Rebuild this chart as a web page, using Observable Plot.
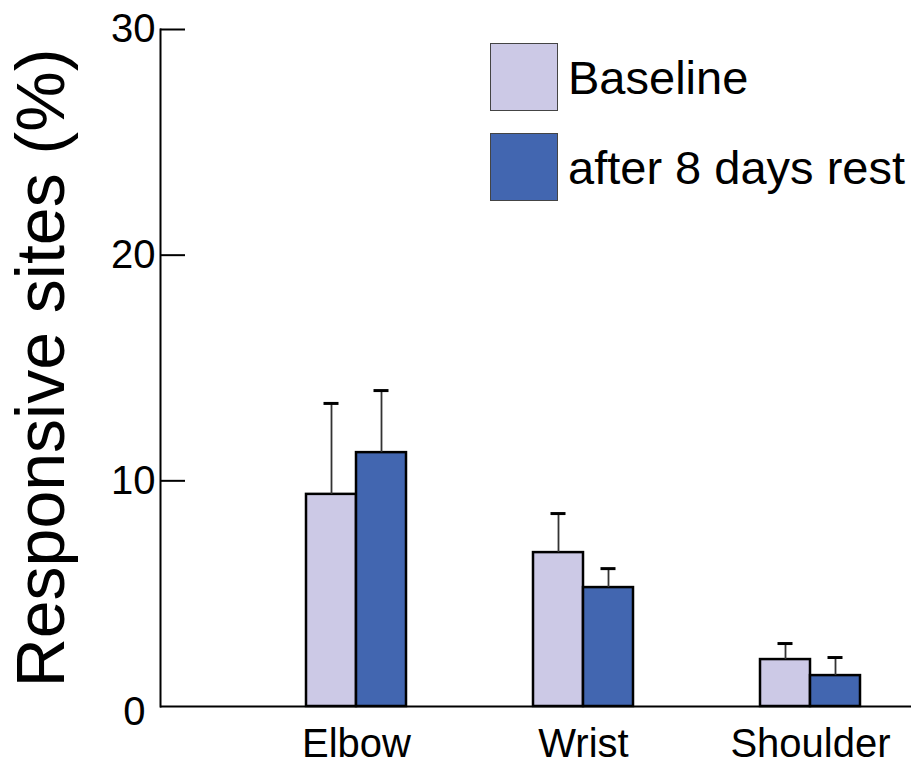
<!DOCTYPE html>
<html>
<head>
<meta charset="utf-8">
<script src="https://cdn.jsdelivr.net/npm/d3@7"></script>
<script src="https://cdn.jsdelivr.net/npm/@observablehq/plot@0.6"></script>
<style>
  html, body { margin: 0; padding: 0; background: #fff; }
  #wrap { position: relative; width: 911px; height: 764px; font-family: "Liberation Sans", Arial, sans-serif; }
  #legend { position: absolute; left: 490px; top: 43px; }
  .row { display: flex; align-items: center; height: 68px; margin-bottom: 22px; }
  .sw { width: 66px; height: 66px; border: 1px solid #444; box-sizing: content-box; }
  .lab { font-size: 47px; margin-left: 10px; color: #000; white-space: nowrap; }
</style>
</head>
<body>
<div id="wrap"></div>
<script>
const categories = ["Elbow", "Wrist", "Shoulder"];
const seriesNames = ["Baseline", "after 8 days rest"];
const baselineValues = [9.4, 6.82, 2.08];
const baselineErrors = [4.03, 1.73, 0.71];
const restValues = [11.25, 5.27, 1.37];
const restErrors = [2.75, 0.84, 0.8];
const yTicks = [10, 20, 30];
const yZeroTick = [0];
const yLabel = "Responsive sites (%)";
const colors = ["#CCC9E6", "#4266B0"];

const rows = [];
categories.forEach((c, i) => {
  rows.push({cat: c, series: seriesNames[0], value: baselineValues[i], err: baselineErrors[i]});
  rows.push({cat: c, series: seriesNames[1], value: restValues[i], err: restErrors[i]});
});
const base = rows.filter(d => d.series === seriesNames[0]);
const rest = rows.filter(d => d.series === seriesNames[1]);

const font = '"Liberation Sans", Arial, sans-serif';

const chart = Plot.plot({
  width: 911,
  height: 764,
  marginLeft: 160,
  marginRight: 0,
  marginTop: 29,
  marginBottom: 58,
  style: {fontFamily: font, color: "#000", background: "#fff", overflow: "visible"},
  x: {domain: categories, paddingInner: 0.5604, paddingOuter: 0.4308, align: 0.74, label: null},
  y: {domain: [0, 30], label: null},
  marks: [
    Plot.barY(base, {x: "cat", y: "value", fill: colors[0], stroke: "#000", strokeWidth: 2.5, insetRight: 50}),
    Plot.barY(rest, {x: "cat", y: "value", fill: colors[1], stroke: "#000", strokeWidth: 2.5, insetLeft: 50}),
    Plot.ruleX(base, {x: "cat", y1: "value", y2: d => d.value + d.err, dx: -25, stroke: "#333", strokeWidth: 1.8}),
    Plot.ruleX(rest, {x: "cat", y1: "value", y2: d => d.value + d.err, dx: 25, stroke: "#333", strokeWidth: 1.8}),
    Plot.tickY(base, {x: "cat", y: d => d.value + d.err, dx: -25, insetLeft: 42.5, insetRight: 42.5, stroke: "#000", strokeWidth: 3}),
    Plot.tickY(rest, {x: "cat", y: d => d.value + d.err, dx: 25, insetLeft: 42.5, insetRight: 42.5, stroke: "#000", strokeWidth: 3}),
    Plot.frame({anchor: "left", stroke: "#000", strokeWidth: 2}),
    Plot.ruleY([0], {stroke: "#000", strokeWidth: 2}),
    Plot.axisY({ticks: yTicks, tickSize: -25, tickPadding: 30, fontSize: 40, label: null, strokeWidth: 2, tickFormat: d => String(d)}),
    Plot.axisY({ticks: yZeroTick, tickSize: 0, tickPadding: 15, dy: 6, fontSize: 40, label: null, tickFormat: d => String(d)}),
    Plot.axisX({tickSize: 0, tickPadding: 22, fontSize: 40, label: null}),
    Plot.text([yLabel], {text: d => d, frameAnchor: "left", textAnchor: "middle", rotate: -90, dx: -118, fontSize: 68, fill: "#000"})
  ]
});

const wrap = document.getElementById("wrap");
wrap.appendChild(chart);

const legend = document.createElement("div");
legend.id = "legend";
seriesNames.forEach((s, i) => {
  const row = document.createElement("div");
  row.className = "row";
  const sw = document.createElement("div");
  sw.className = "sw";
  sw.style.background = colors[i];
  const lab = document.createElement("span");
  lab.className = "lab";
  lab.textContent = s;
  row.appendChild(sw);
  row.appendChild(lab);
  legend.appendChild(row);
});
wrap.appendChild(legend);
</script>
</body>
</html>
